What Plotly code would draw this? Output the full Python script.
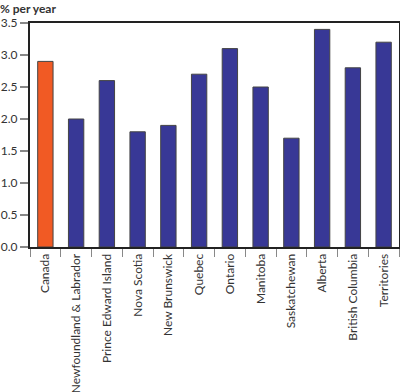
import plotly.graph_objects as go

categories = ["Canada", "Newfoundland & Labrador", "Prince Edward Island", "Nova Scotia",
              "New Brunswick", "Quebec", "Ontario", "Manitoba", "Saskatchewan",
              "Alberta", "British Columbia", "Territories"]
values = [2.9, 2.0, 2.6, 1.8, 1.9, 2.7, 3.1, 2.5, 1.7, 3.4, 2.8, 3.2]
colors = ["#F15A24"] + ["#383896"] * 11

fig = go.Figure(go.Bar(
    x=categories, y=values, width=0.5,
    marker=dict(color=colors, line=dict(color="#444444", width=1)),
))

font_family = "Lato, DejaVu Sans, sans-serif"
fig.update_layout(
    width=400, height=392,
    margin=dict(l=30, r=1, t=23, b=145),
    paper_bgcolor="white", plot_bgcolor="white",
    showlegend=False,
    font=dict(family=font_family, size=12, color="#333333"),
    bargap=0.5,
    annotations=[dict(text="<b>% per year</b>", x=0, y=1, xref="paper", yref="paper",
                      xanchor="left", yanchor="top", showarrow=False, borderpad=0,
                      xshift=-31, yshift=23, font=dict(size=12, color="#333333"))],
)
fig.update_yaxes(range=[0, 3.5], dtick=0.5, tickformat=".1f", automargin=False,
                 showgrid=False, zeroline=False,
                 showline=True, linecolor="#222222", linewidth=2, mirror=True,
                 ticks="outside", ticklen=8, tickcolor="#888888", tickwidth=2,
                 tickfont=dict(size=12))
fig.update_xaxes(showgrid=False, showline=True, linecolor="#222222", linewidth=2, mirror=True,
                 automargin=False,
                 ticks="outside", ticklen=8, tickcolor="#888888", tickwidth=1,
                 tickson="boundaries", tickangle=-90, tickfont=dict(size=12))

fig.write_html("out.html", config={"displayModeBar": False},
               post_script="document.body.style.margin='0';")
